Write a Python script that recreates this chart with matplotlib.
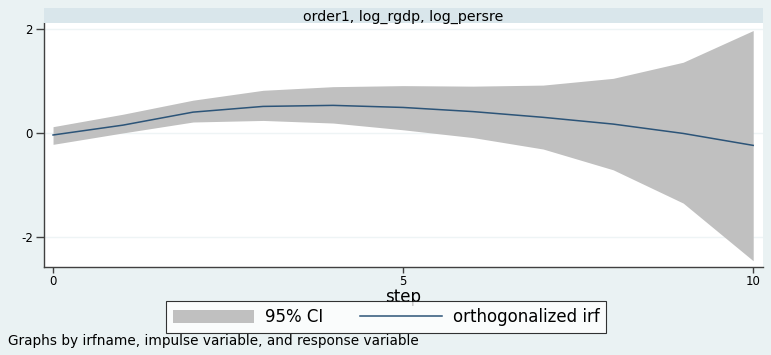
import matplotlib
matplotlib.use("Agg")
import matplotlib.pyplot as plt
from matplotlib.patches import Patch
from matplotlib.lines import Line2D

plt.rcParams['font.family'] = ['DejaVu Sans']

steps = [0, 1, 2, 3, 4, 5, 6, 7, 8, 9, 10]
irf = [-0.04, 0.15, 0.40, 0.51, 0.53, 0.49, 0.41, 0.30, 0.17, -0.01, -0.24]
ci_upper = [0.12, 0.36, 0.63, 0.82, 0.89, 0.91, 0.90, 0.92, 1.05, 1.36, 1.97]
ci_lower = [-0.22, 0.00, 0.21, 0.24, 0.19, 0.06, -0.09, -0.31, -0.71, -1.35, -2.46]
yticks = [-2, 0, 2]
xticks = [0, 5, 10]
panel_title = "order1, log_rgdp, log_persre"
xlabel = "step"
legend_labels = ["95% CI", "orthogonalized irf"]
note = "Graphs by irfname, impulse variable, and response variable"

bg = '#eaf2f3'
strip = '#d9e6eb'
fill_c = '#c0c0c0'
line_c = '#2c5478'

fig = plt.figure(figsize=(7.71, 3.55), dpi=100, facecolor=bg)
W, H = 771, 355
L, R, T, B = 44, 763, 23, 267
ax = fig.add_axes([L / W, 1 - B / H, (R - L) / W, (B - T) / H])
ax.set_facecolor('white')

ax.fill_between(steps, ci_lower, ci_upper, color=fill_c, linewidth=0, zorder=2)
ax.plot(steps, irf, color=line_c, linewidth=1.1, zorder=3)

ax.set_xlim(-0.129, 10.14)
ax.set_ylim(-2.58, 2.115)
ax.set_xticks(xticks)
ax.set_yticks(yticks)
ax.set_xticklabels([str(t) for t in xticks])
ax.set_yticklabels([str(t) for t in yticks])
ax.grid(axis='y', color='#eef4f5', linewidth=1, zorder=1)
ax.set_axisbelow(True)

for s in ['top', 'right']:
    ax.spines[s].set_visible(False)
for s in ['left', 'bottom']:
    ax.spines[s].set_color('#404040')
    ax.spines[s].set_linewidth(1.0)
ax.tick_params(axis='y', length=6, width=1, color='#404040', labelsize=8.5, pad=2)
ax.tick_params(axis='x', length=4, width=1, color='#404040', labelsize=8.5, pad=1.5)
ax.set_xlabel(xlabel, fontsize=12, labelpad=0)

# title strip
sax = fig.add_axes([L / W, 1 - T / H, (R - L) / W, (T - 8) / H])
sax.set_facecolor(strip)
sax.set_xticks([])
sax.set_yticks([])
for s in sax.spines.values():
    s.set_visible(False)
sax.text(0.5, 0.42, panel_title, ha='center', va='center', fontsize=10.2,
         transform=sax.transAxes)

handles = [Patch(facecolor=fill_c, edgecolor='none'),
           Line2D([0], [0], color=line_c, linewidth=1.1)]
leg = fig.legend(handles, legend_labels, ncol=2, loc='center',
                 bbox_to_anchor=(386 / W, 1 - 317 / H), fontsize=12,
                 frameon=True, fancybox=False, edgecolor='black',
                 handlelength=4.9, handleheight=0.8, handletextpad=0.65,
                 columnspacing=2.2, borderpad=0.4, borderaxespad=0)
leg.get_frame().set_linewidth(0.8)
leg.get_frame().set_facecolor('white')

fig.text(8 / W, 1 - 341 / H, note, ha='left', va='center', fontsize=9.8)

fig.savefig('out.png', dpi=100, facecolor=bg)
